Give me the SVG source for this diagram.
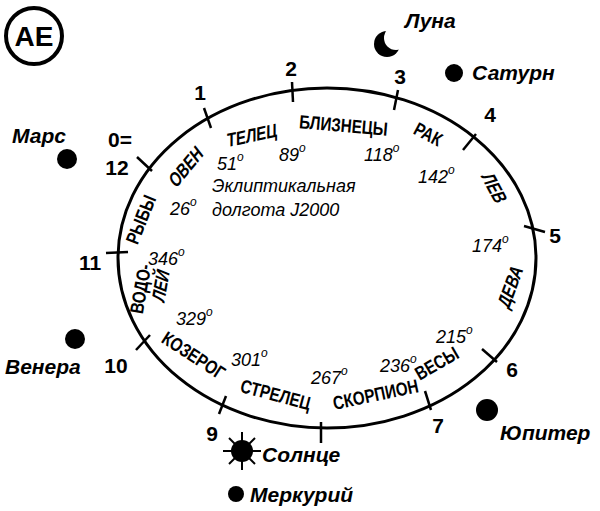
<svg xmlns="http://www.w3.org/2000/svg" width="600" height="511" viewBox="0 0 600 511">
<style>
.n{font-family:"Liberation Sans",Arial,sans-serif;font-weight:bold;font-size:21px;fill:#000}
.z{font-family:"Liberation Sans",Arial,sans-serif;font-weight:bold;font-size:19px;fill:#000}
.p{font-family:"Liberation Sans",Arial,sans-serif;font-weight:bold;font-style:italic;font-size:21px;fill:#000}
.d{font-family:"Liberation Sans",Arial,sans-serif;font-style:italic;font-size:18px;fill:#000}
.s{font-size:12px}
.t{stroke:#000;stroke-width:2.5}
</style>
<rect width="600" height="511" fill="#fff"/>
<g id="logo"><circle cx="34" cy="36" r="28" fill="none" stroke="#000" stroke-width="4"/><text x="34" y="46" text-anchor="middle" class="n" style="font-size:28px">AE</text></g>
<g id="ecliptic"><ellipse cx="327" cy="258" rx="209" ry="170" fill="none" stroke="#000" stroke-width="3"/></g>
<g id="connectors">
<line class="t" x1="204" y1="108" x2="211" y2="128"/>
<line class="t" x1="292" y1="82" x2="293" y2="102"/>
<line class="t" x1="398" y1="90" x2="394" y2="110"/>
<line class="t" x1="476" y1="134" x2="463" y2="150"/>
<line class="t" x1="524" y1="226" x2="545" y2="232"/>
<line class="t" x1="482" y1="349" x2="497" y2="362"/>
<line class="t" x1="425" y1="391" x2="431" y2="410"/>
<line class="t" x1="321" y1="422" x2="321" y2="443"/>
<line class="t" x1="226" y1="396" x2="219" y2="414"/>
<line class="t" x1="150" y1="335" x2="136" y2="350"/>
<line class="t" x1="106" y1="253" x2="128" y2="252"/>
<line class="t" x1="137" y1="157" x2="152" y2="171"/>
</g>
<g id="numbers">
<text class="n" x="200" y="100" text-anchor="middle">1</text>
<text class="n" x="291" y="76" text-anchor="middle">2</text>
<text class="n" x="400" y="84" text-anchor="middle">3</text>
<text class="n" x="490" y="122" text-anchor="middle">4</text>
<text class="n" x="555" y="243" text-anchor="middle">5</text>
<text class="n" x="512" y="377" text-anchor="middle">6</text>
<text class="n" x="438" y="433" text-anchor="middle">7</text>
<text class="n" x="212" y="441" text-anchor="middle">9</text>
<text class="n" x="116" y="373" text-anchor="middle">10</text>
<text class="n" x="90" y="270" text-anchor="middle">11</text>
<text class="n" x="120" y="147" text-anchor="middle">0=</text>
<text class="n" x="117" y="175" text-anchor="middle">12</text>
</g>
<g id="signs">
<text class="z" transform="translate(252,142) rotate(-12) skewX(-12) scale(0.8,1)" text-anchor="middle">ТЕЛЕЦ</text>
<text class="z" transform="translate(343,132) rotate(5) scale(0.8,1)" text-anchor="middle">БЛИЗНЕЦЫ</text>
<text class="z" transform="translate(425,140) rotate(28) scale(0.8,1)" text-anchor="middle">РАК</text>
<text class="z" transform="translate(488,190) rotate(62) skewX(-12) scale(0.8,1)" text-anchor="middle">ЛЕВ</text>
<text class="z" transform="translate(516,290) rotate(-70) skewX(-12) scale(0.8,1)" text-anchor="middle">ДЕВА</text>
<text class="z" transform="translate(440,369) rotate(-30) scale(0.8,1)" text-anchor="middle">ВЕСЫ</text>
<text class="z" transform="translate(377,401) rotate(-12) scale(0.8,1)" text-anchor="middle">СКОРПИОН</text>
<text class="z" transform="translate(274,401) rotate(15) scale(0.8,1)" text-anchor="middle">СТРЕЛЕЦ</text>
<text class="z" transform="translate(190,361) rotate(33) scale(0.8,1)" text-anchor="middle">КОЗЕРОГ</text>
<text class="z" transform="translate(147,290) rotate(-80) scale(0.8,1)" text-anchor="middle">ВОДО-</text>
<text class="z" transform="translate(167,288) rotate(-80) skewX(-12) scale(0.8,1)" text-anchor="middle">ЛЕЙ</text>
<text class="z" transform="translate(147,222) rotate(-68) scale(0.8,1)" text-anchor="middle">РЫБЫ</text>
<text class="z" transform="translate(190,172) rotate(-50) skewX(-12) scale(0.8,1)" text-anchor="middle">ОВЕН</text>
</g>
<g id="degrees">
<text class="d" x="217" y="170">51<tspan class="s" dy="-9">o</tspan></text>
<text class="d" x="279" y="161">89<tspan class="s" dy="-9">o</tspan></text>
<text class="d" x="364" y="161">118<tspan class="s" dy="-9">o</tspan></text>
<text class="d" x="418" y="183">142<tspan class="s" dy="-9">o</tspan></text>
<text class="d" x="472" y="252">174<tspan class="s" dy="-9">o</tspan></text>
<text class="d" x="436" y="343">215<tspan class="s" dy="-9">o</tspan></text>
<text class="d" x="380" y="372">236<tspan class="s" dy="-9">o</tspan></text>
<text class="d" x="311" y="384">267<tspan class="s" dy="-9">o</tspan></text>
<text class="d" x="231" y="366">301<tspan class="s" dy="-9">o</tspan></text>
<text class="d" x="176" y="325">329<tspan class="s" dy="-9">o</tspan></text>
<text class="d" x="148" y="265">346<tspan class="s" dy="-9">o</tspan></text>
<text class="d" x="170" y="215">26<tspan class="s" dy="-9">o</tspan></text>
<text class="d" x="212" y="192">Эклиптикальная</text>
<text class="d" x="212" y="216">долгота J2000</text>
</g>
<g id="bodies">
<circle cx="387" cy="44" r="13" fill="#000"/><circle cx="396" cy="38" r="12" fill="#fff"/>
<text class="p" x="405" y="28">Луна</text>
<circle cx="454" cy="73" r="9" fill="#000"/><text class="p" x="472" y="80">Сатурн</text>
<circle cx="67" cy="159" r="10" fill="#000"/><text class="p" x="12" y="143">Марс</text>
<circle cx="75" cy="339" r="10" fill="#000"/><text class="p" x="5" y="374">Венера</text>
<circle cx="487" cy="410" r="11" fill="#000"/><text class="p" x="500" y="440">Юпитер</text>
<g stroke="#000" stroke-width="2"><line x1="242" y1="432" x2="242" y2="470"/><line x1="223" y1="451" x2="261" y2="451"/><line x1="229" y1="438" x2="255" y2="464"/><line x1="229" y1="464" x2="255" y2="438"/></g>
<circle cx="242" cy="451" r="11" fill="#000"/><text class="p" x="262" y="462">Солнце</text>
<circle cx="236" cy="494" r="8" fill="#000"/><text class="p" x="250" y="502">Меркурий</text>
</g>
</svg>
